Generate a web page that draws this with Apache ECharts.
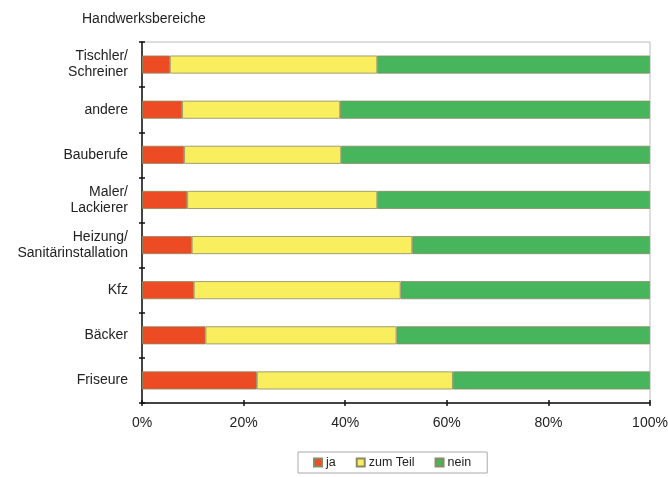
<!DOCTYPE html>
<html>
<head>
<meta charset="utf-8">
<script src="https://cdn.jsdelivr.net/npm/echarts@6/dist/echarts.min.js"></script>
<style>html,body{margin:0;padding:0;background:#fff;}#c{width:668px;height:477px;}</style>
</head>
<body>
<div id="c"></div>
<script>
const categories = ['Tischler/\nSchreiner', 'andere', 'Bauberufe', 'Maler/\nLackierer', 'Heizung/\nSanitärinstallation', 'Kfz', 'Bäcker', 'Friseure'];
const ja = [5.5, 7.9, 8.3, 8.9, 9.8, 10.2, 12.5, 22.6];
const zumTeil = [40.8, 31.1, 30.9, 37.4, 43.4, 40.7, 37.6, 38.6];
const nein = [53.7, 61.0, 60.8, 53.7, 46.8, 49.1, 49.9, 38.8];
const xTicks = ['0%', '20%', '40%', '60%', '80%', '100%'];

const font = 'Liberation Sans, Arial, sans-serif';
const chart = echarts.init(document.getElementById('c'));
const barStyle = (c) => ({ color: c, borderColor: '#8a8a66', borderWidth: 0.8 });
chart.setOption({
  animation: false,
  title: { text: 'Handwerksbereiche', left: 77, top: 7, textStyle: { fontFamily: font, fontSize: 14, fontWeight: 'normal', color: '#222' } },
  legend: {
    top: 452, left: 298,
    data: ['ja', 'zum Teil', 'nein'],
    itemWidth: 8, itemHeight: 8, itemGap: 20,
    borderColor: '#aaa', borderWidth: 1, padding: [4, 16, 4, 15],
    icon: 'rect',
    textStyle: { fontFamily: font, fontSize: 12.5, color: '#222', padding: [0, 0, 0, -1] }
  },
  grid: { left: 142, right: 18, top: 42, bottom: 74, show: true, borderColor: '#bbb', borderWidth: 1, containLabel: false, outerBoundsMode: 'none' },
  xAxis: [{
    type: 'value', min: 0, max: 100, interval: 20,
    axisLine: { show: true, lineStyle: { color: '#111', width: 1.5 } },
    axisTick: { show: true, length: 3, lineStyle: { color: '#111', width: 1.5 } },
    splitLine: { show: false },
    axisLabel: { margin: 13, fontFamily: font, fontSize: 14, color: '#222', formatter: (v) => xTicks[Math.round(v / 20)] }
  }, {
    type: 'value', min: 0, max: 100, interval: 20, position: 'bottom',
    axisLine: { show: false },
    axisTick: { show: true, inside: true, length: 3, lineStyle: { color: '#111', width: 1.5 } },
    splitLine: { show: false }, axisLabel: { show: false }
  }],
  yAxis: [{
    type: 'category', data: categories, inverse: true,
    axisLine: { show: true, lineStyle: { color: '#111', width: 1.5 } },
    axisTick: { show: true, length: 3, lineStyle: { color: '#111', width: 1.5 } },
    axisLabel: { margin: 14, fontFamily: font, fontSize: 14, color: '#222', align: 'right', lineHeight: 16 }
  }, {
    type: 'category', data: categories, inverse: true, position: 'left',
    axisLine: { show: false },
    axisTick: { show: true, inside: true, length: 3, lineStyle: { color: '#111', width: 1.5 } },
    axisLabel: { show: false }
  }],
  series: [
    { name: 'ja', type: 'bar', stack: 's', data: ja, barWidth: 18, itemStyle: barStyle('#ED4B23') },
    { name: 'zum Teil', type: 'bar', stack: 's', data: zumTeil, barWidth: 18, itemStyle: barStyle('#F8EE5E') },
    { name: 'nein', type: 'bar', stack: 's', data: nein, barWidth: 18, itemStyle: barStyle('#47B55C') }
  ]
});
</script>
</body>
</html>
